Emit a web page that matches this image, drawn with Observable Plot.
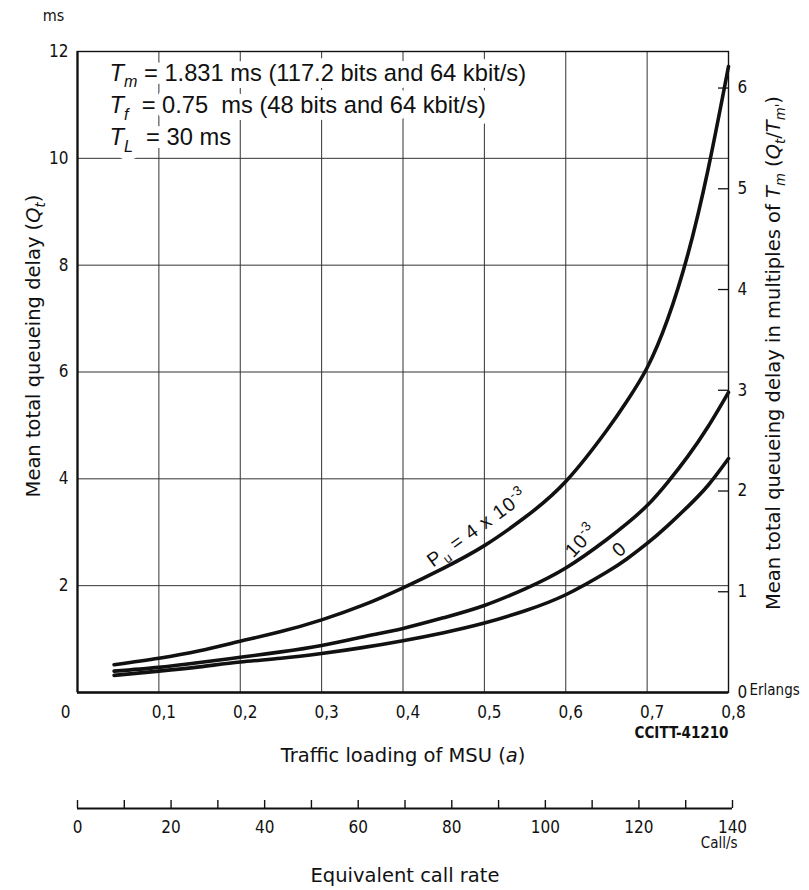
<!DOCTYPE html>
<html>
<head>
<meta charset="utf-8">
<script src="https://cdn.jsdelivr.net/npm/d3@7"></script>
<script src="https://cdn.jsdelivr.net/npm/@observablehq/plot@0.6"></script>
<style>
  html, body { margin: 0; padding: 0; background: #fff; }
  #chart { width: 809px; position: relative; }
  #chart svg { display: block; }
  #chart g[aria-description="curve label"] text { letter-spacing: 0.8px; }
</style>
</head>
<body>
<div id="chart"></div>
<script>
// ---------- data ----------
const loading = [0.045, 0.1, 0.15, 0.2, 0.25, 0.3, 0.35, 0.4, 0.45, 0.5, 0.55, 0.6, 0.65, 0.675, 0.7, 0.725, 0.75, 0.775, 0.8];
const qtPu4e3 = [0.52, 0.64, 0.78, 0.96, 1.14, 1.36, 1.63, 1.96, 2.33, 2.75, 3.28, 3.95, 4.9, 5.45, 6.08, 6.98, 8.2, 9.8, 11.72];
const qtPu1e3 = [0.40, 0.47, 0.56, 0.66, 0.76, 0.88, 1.04, 1.2, 1.4, 1.63, 1.94, 2.33, 2.86, 3.16, 3.5, 3.93, 4.42, 4.98, 5.62];
const qtPu0   = [0.32, 0.40, 0.48, 0.57, 0.64, 0.73, 0.84, 0.97, 1.12, 1.3, 1.53, 1.83, 2.25, 2.5, 2.79, 3.12, 3.48, 3.88, 4.38];
const seriesNames = ["4e-3", "1e-3", "0"];
const seriesValues = [qtPu4e3, qtPu1e3, qtPu0];

// curve labels (text, position on the chart in data units, angle)
const curveLabelText = ["P{s|u} = 4 x 10{u|-3}", "10{u|-3}", "0"];
const curveLabelA = [0.491, 0.619, 0.666];
const curveLabelQ = [3.08, 2.84, 2.68];
const curveLabelAngle = [-36, -47, -40];

// axes
const xTickValues = [0, 0.1, 0.2, 0.3, 0.4, 0.5, 0.6, 0.7, 0.8];
const xTickLabels = ["0", "0,1", "0,2", "0,3", "0,4", "0,5", "0,6", "0,7", "0,8"];
const yTickValues = [2, 4, 6, 8, 10, 12];
const gridA = [0.1, 0.2, 0.3, 0.4, 0.5, 0.6, 0.7];
const gridQ = [2, 4, 6, 8, 10];
const rightTickValues = [0, 1, 2, 3, 4, 5, 6];
const tmPrime = 1.886; // ms per unit of the right-hand axis, as drawn
const callTicks = [0, 10, 20, 30, 40, 50, 60, 70, 80, 90, 100, 110, 120, 130, 140];
const callLabels = [0, 20, 40, 60, 80, 100, 120, 140];

const annotationLines = [
  "{i|T}{is|m} = 1.831 ms (117.2 bits and 64 kbit/s)",
  "{i|T}{is|f}  = 0.75  ms (48 bits and 64 kbit/s)",
  "{i|T}{is|L}  = 30 ms"
];
const yTitle = "Mean total queueing delay ({i|Q}{is|t})";
const y2Title = "Mean total queueing delay in multiples of {i|T}{is|m} ({i|Q}{is|t}/{i|T}{is|m'})";
const xTitle = "Traffic loading of MSU ({i|a})";
const x2Title = "Equivalent call rate";

// ---------- build table ----------
const rows = seriesNames.flatMap((s, k) => loading.map((a, i) => ({series: s, a, q: seriesValues[k][i]})));
const labelRows = curveLabelText.map((t, i) => ({t, a: curveLabelA[i], q: curveLabelQ[i], r: curveLabelAngle[i]}));

const SANS = "'Liberation Sans', Arial, Helvetica, sans-serif";
const COND = "'DejaVu Sans Condensed', 'Liberation Sans Narrow', 'DejaVu Sans', sans-serif";
const WIDE = "'DejaVu Sans', 'Liberation Sans', sans-serif";
const INK = "#111";
const M = {lineAnchor: "middle", fill: INK};

const plot1 = Plot.plot({
  width: 809, height: 770,
  marginLeft: 77, marginRight: 81, marginTop: 51, marginBottom: 78,
  x: {domain: [0, 0.8], axis: null},
  y: {domain: [0, 12], axis: null},
  style: {background: "white", color: INK, fontFamily: SANS},
  marks: [
    Plot.ruleX(gridA, {stroke: "#333", strokeWidth: 1}),
    Plot.ruleY(gridQ, {stroke: "#333", strokeWidth: 1}),
    Plot.frame({stroke: INK, strokeWidth: 1.4}),
    Plot.ruleX([0], {stroke: INK, strokeWidth: 2.2}),
    Plot.ruleY([0], {stroke: INK, strokeWidth: 2.6}),
    Plot.tickY(rightTickValues.filter(d => d > 0), {y: d => d * tmPrime, insetLeft: 641, insetRight: -1, stroke: INK, strokeWidth: 1.3}),
    // annotation block
    Plot.text([annotationLines.join("\n")], {
      ariaDescription: "annotation",
      frameAnchor: "top-left", dx: 32, dy: 6, textAnchor: "start", lineAnchor: "top",
      lineHeight: 1.37, fontSize: 23.7, fontFamily: SANS, fill: INK,
      stroke: "white", strokeWidth: 14, text: d => d
    }),
    // curves
    Plot.line(rows, {x: "a", y: "q", z: "series", stroke: INK, strokeWidth: 3.6, curve: "natural"}),
    // curve labels
    Plot.text(labelRows, {ariaDescription: "curve label", x: "a", y: "q", text: "t", rotate: "r", fontSize: 19.5, fontFamily: SANS, ...M}),
    // left tick labels
    Plot.text(yTickValues, {y: d => d, text: d => String(d), frameAnchor: "left", dx: -9, textAnchor: "end", fontSize: 17, fontFamily: COND, ...M}),
    Plot.text(["ms"], {frameAnchor: "top-left", dx: -24, dy: -36, textAnchor: "middle", fontSize: 16, fontFamily: COND, ...M}),
    // bottom tick labels
    Plot.text(xTickValues.slice(0, 1), {x: d => d, text: (d, i) => xTickLabels[i], frameAnchor: "bottom", dx: -12, dy: 20, textAnchor: "middle", fontSize: 17, fontFamily: COND, ...M}),
    Plot.text(xTickValues.slice(1), {x: d => d, text: (d, i) => xTickLabels[i + 1], frameAnchor: "bottom", dx: 5, dy: 20, textAnchor: "middle", fontSize: 17, fontFamily: COND, ...M}),
    // right tick labels
    Plot.text(rightTickValues, {y: d => d * tmPrime, text: d => String(d), frameAnchor: "right", dx: 9, textAnchor: "start", fontSize: 17, fontFamily: COND, ...M}),
    Plot.text(["Erlangs"], {frameAnchor: "bottom-right", dx: 21, dy: -2, textAnchor: "start", fontSize: 15, fontFamily: COND, ...M}),
    Plot.text(["CCITT-41210"], {frameAnchor: "bottom-right", dx: 0, dy: 41, textAnchor: "end", fontSize: 15, fontWeight: "bold", fontFamily: COND, ...M}),
    // axis titles
    Plot.text([xTitle], {frameAnchor: "bottom", dy: 63, textAnchor: "middle", fontSize: 19.5, fontFamily: WIDE, ...M}),
    Plot.text([yTitle], {frameAnchor: "left", dx: -44, dy: -26, rotate: -90, textAnchor: "middle", fontSize: 19.5, fontFamily: WIDE, ...M}),
    Plot.text([y2Title], {frameAnchor: "right", dx: 45, dy: -19, rotate: -90, textAnchor: "middle", fontSize: 19.5, fontFamily: WIDE, ...M})
  ]
});

const plot2 = Plot.plot({
  width: 809, height: 120,
  marginLeft: 77, marginRight: 77, marginTop: 30, marginBottom: 82,
  x: {domain: [0, 140], axis: null},
  y: {domain: [0, 1], axis: null},
  style: {background: "white", color: INK, fontFamily: SANS},
  marks: [
    Plot.ruleX(callTicks, {x: d => d, stroke: INK, strokeWidth: 1.4}),
    Plot.ruleY([0], {stroke: INK, strokeWidth: 2.2}),
    Plot.text(callLabels, {x: d => d, text: d => String(d), frameAnchor: "bottom", dy: 19, textAnchor: "middle", fontSize: 17, fontFamily: COND, ...M}),
    Plot.text(["Call/s"], {frameAnchor: "bottom-right", dx: 5, dy: 35, textAnchor: "end", fontSize: 15, fontFamily: COND, ...M}),
    Plot.text([x2Title], {frameAnchor: "bottom", dy: 67, textAnchor: "middle", fontSize: 19.5, fontFamily: WIDE, ...M})
  ]
});

const host = document.getElementById("chart");
host.appendChild(plot1);
host.appendChild(plot2);

// ---------- rich text: italics, subscripts, superscripts ----------
const SVGNS = "http://www.w3.org/2000/svg";
function enrich(node) {
  const s = node.data;
  if (!/\{[a-z]+\|/.test(s)) return;
  const parent = node.parentNode;
  const fs = parseFloat(getComputedStyle(parent).fontSize) || 16;
  const frag = document.createDocumentFragment();
  let shift = 0, last = 0, m;
  const re = /\{([a-z]+)\|([^}]*)\}/g;
  const add = (txt, flags) => {
    if (!txt) return;
    const ts = document.createElementNS(SVGNS, "tspan");
    let target = 0;
    if (flags.includes("s")) target = 0.28 * fs;
    if (flags.includes("u")) target = -0.42 * fs;
    const dy = target - shift;
    if (dy) ts.setAttribute("dy", dy.toFixed(2));
    shift = target;
    if (flags.includes("s") || flags.includes("u")) ts.setAttribute("font-size", (0.68 * fs).toFixed(1) + "px");
    if (flags.includes("i")) ts.setAttribute("font-style", "italic");
    ts.textContent = txt;
    frag.appendChild(ts);
  };
  while ((m = re.exec(s))) {
    add(s.slice(last, m.index), "");
    add(m[2], m[1]);
    last = re.lastIndex;
  }
  add(s.slice(last), "");
  parent.replaceChild(frag, node);
}
for (const svg of host.querySelectorAll("svg")) {
  const walker = document.createTreeWalker(svg, NodeFilter.SHOW_TEXT);
  const nodes = [];
  while (walker.nextNode()) nodes.push(walker.currentNode);
  nodes.forEach(enrich);
  svg.querySelectorAll("text, tspan").forEach(el => el.setAttribute("xml:space", "preserve"));
}
</script>
</body>
</html>
